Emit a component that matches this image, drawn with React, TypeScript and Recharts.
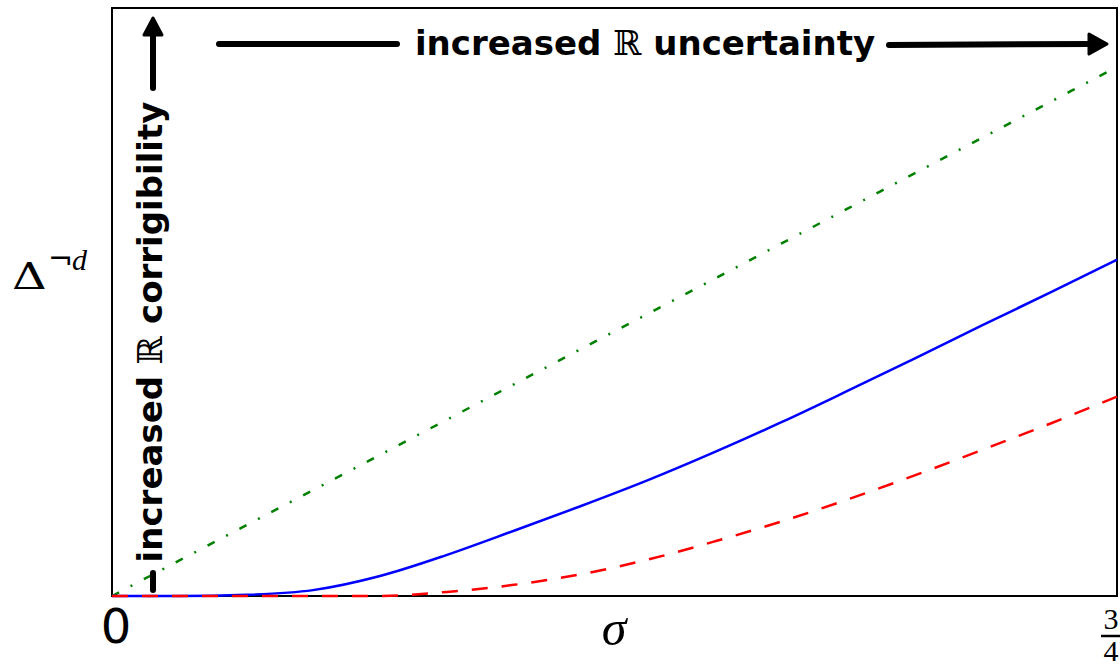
import React from 'react';
import { LineChart, Line, XAxis, YAxis, ReferenceArea } from 'recharts';

// sigma positions (x axis runs from 0 to 3/4)
const sigmaValues = [0, 0.05, 0.1, 0.15, 0.2, 0.25, 0.3, 0.35, 0.4, 0.45, 0.5, 0.55, 0.6, 0.65, 0.7, 0.75];
// curves, y normalised to the frame height
const solidBlue = [0, 0, 0.002, 0.01, 0.034, 0.07, 0.111, 0.153, 0.197, 0.245, 0.296, 0.35, 0.405, 0.461, 0.516, 0.572];
const dashedRed = [0, 0, 0, 0, 0, 0.007, 0.019, 0.037, 0.062, 0.093, 0.127, 0.165, 0.206, 0.249, 0.293, 0.339];
const dashDotGreen = [0, 0.06, 0.12, 0.18, 0.24, 0.3, 0.36, 0.42, 0.48, 0.54, 0.6, 0.66, 0.72, 0.78, 0.84, 0.9];
const xTicks = [0, 0.75];

const W = 1120;
const H = 668;

const chartData = sigmaValues.map((s, i) => ({
  sigma: s,
  blue: solidBlue[i],
  red: dashedRed[i],
  green: dashDotGreen[i],
}));

const SigmaTick = ({ x, payload }: any) => {
  if (payload.value === 0) {
    return (
      <text x={x + 4} y={643} textAnchor="middle" fontFamily="DejaVu Sans" fontSize={48} fill="#000">0</text>
    );
  }
  // 3/4 as a stacked fraction
  return (
    <g fontFamily="Liberation Serif" fontSize={30} fill="#000">
      <text x={x + 5} y={629} textAnchor="middle">3</text>
      <line x1={x - 5} x2={x + 15} y1={636} y2={636} stroke="#000" strokeWidth={2.5} />
      <text x={x + 5} y={661} textAnchor="middle">4</text>
    </g>
  );
};

const Annotations = () => (
  <svg width={W} height={H} style={{ position: 'absolute', left: 0, top: 0, pointerEvents: 'none' }}>
    {/* y label */}
    <text transform="translate(12 289) scale(1.3 1)" fontFamily="DejaVu Serif" fontSize={37} fill="#000">Δ</text>
    <text x={48} y={269} fontFamily="DejaVu Sans" fontSize={30} fill="#000">¬</text>
    <text x={72} y={270} fontFamily="Liberation Serif" fontStyle="italic" fontSize={30} fill="#000">d</text>
    {/* x label */}
    <text x={614} y={645} textAnchor="middle" fontFamily="Liberation Serif" fontStyle="italic" fontSize={50} fill="#000">σ</text>

    {/* horizontal arrow */}
    <line x1={219} y1={44} x2={397} y2={44} stroke="#000" strokeWidth={6} strokeLinecap="round" />
    <line x1={889} y1={45} x2={1092} y2={44} stroke="#000" strokeWidth={6} strokeLinecap="round" />
    <polygon points="1089,34 1107,44 1089,54" fill="#000" stroke="#000" strokeWidth={3} strokeLinejoin="round" />
    <text x={645} y={55} textAnchor="middle" fontFamily="DejaVu Sans" fontWeight="bold" fontSize={34} fill="#000">
      increased <tspan fontFamily="DejaVu Serif" fontWeight="normal">ℝ</tspan> uncertainty
    </text>

    {/* vertical arrow */}
    <line x1={153} y1={88} x2={153} y2={34} stroke="#000" strokeWidth={6} strokeLinecap="round" />
    <polygon points="144,35 153,18 162,35" fill="#000" stroke="#000" strokeWidth={3} strokeLinejoin="round" />
    <line x1={153} y1={573} x2={153} y2={590} stroke="#000" strokeWidth={6} strokeLinecap="round" />
    <text x={162} y={332} transform="rotate(-90 162 332)" textAnchor="middle" fontFamily="DejaVu Sans" fontWeight="bold" fontSize={34} fill="#000">
      increased <tspan fontFamily="DejaVu Serif" fontWeight="normal">ℝ</tspan> corrigibility
    </text>
  </svg>
);

export default function App() {
  return (
    <div style={{ position: 'absolute', left: 0, top: 0, width: W, height: H, background: '#fff' }}>
      <LineChart width={W} height={H} data={chartData} margin={{ top: 8, right: 3, left: 112, bottom: 0 }}>
        <XAxis
          dataKey="sigma"
          type="number"
          domain={[0, 0.75]}
          ticks={xTicks}
          axisLine={false}
          tickLine={false}
          height={72}
          tick={<SigmaTick />}
        />
        <YAxis type="number" domain={[0, 1]} hide />
        <Line type="monotone" dataKey="green" stroke="#008000" strokeWidth={2.5} strokeDasharray="8 13 2 13" dot={false} isAnimationActive={false} />
        <Line type="monotone" dataKey="blue" stroke="#0000ff" strokeWidth={2.5} dot={false} isAnimationActive={false} />
        <Line type="monotone" dataKey="red" stroke="#ff0000" strokeWidth={2.5} strokeDasharray="16 14" dot={false} isAnimationActive={false} />
        <ReferenceArea x1={0} x2={0.75} y1={0} y2={1} fill="none" fillOpacity={0} stroke="#000" strokeWidth={2} />
      </LineChart>
      <Annotations />
    </div>
  );
}
